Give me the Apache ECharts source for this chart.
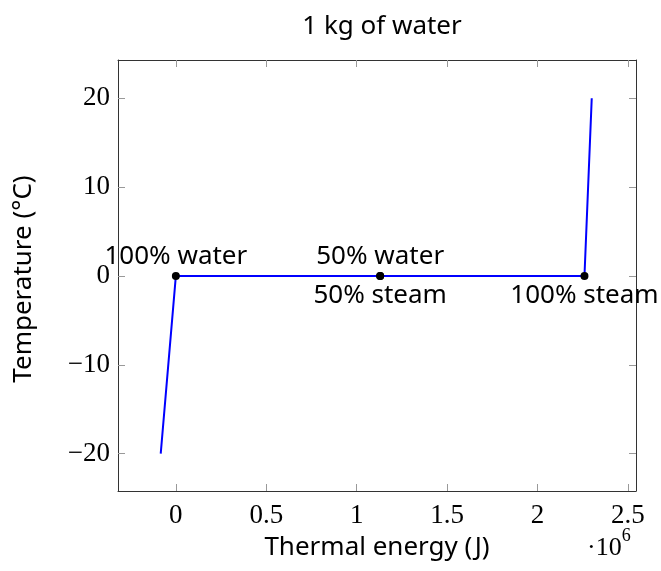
<!DOCTYPE html>
<html lang="en">
<head>
<meta charset="UTF-8">
<title>1 kg of water</title>
<script src="https://cdn.jsdelivr.net/npm/echarts@6/dist/echarts.min.js"></script>
<style>
    html,body{margin:0;padding:0;background:#fff;}
    #main{width:661px;height:571px;}
</style>
</head>
<body>
<div id="main"></div>
<script>
// heating curve data (energy in J, temperature in °C)
var energy = [-83720, 0, 1130000, 2260000, 2300200];
var temperature = [-20, 0, 0, 0, 20];

var aboveLabels = ['100% water', '50% water'];
var abovePoints = [[0, 0], [1130000, 0]];
var belowLabels = ['50% steam', '100% steam'];
var belowPoints = [[1130000, 0], [2260000, 0]];

var xTicks = [0, 500000, 1000000, 1500000, 2000000, 2500000];
var yTicks = [-20, -10, 0, 10, 20];

var serif = '"Liberation Serif", serif';
var sans = '"Noto Sans", "DejaVu Sans", sans-serif';
var frame = '#333';
var tickCol = '#999';

var chart = echarts.init(document.getElementById('main'));

function xAxisCfg(bottom) {
    return {
        type: 'value',
        position: bottom ? 'bottom' : 'top',
        min: -320000,
        max: 2545000,
        splitLine: {show: false},
        axisLine: {show: true, onZero: false, lineStyle: {color: frame, width: 1}},
        axisTick: {show: true, inside: true, length: 7, customValues: xTicks,
            lineStyle: {color: tickCol}},
        axisLabel: {show: bottom, customValues: xTicks, margin: 11,
            fontFamily: serif, fontSize: 27, color: '#000',
            formatter: function (v) { return String(v / 1e6); }}
    };
}
function yAxisCfg(left) {
    return {
        type: 'value',
        position: left ? 'left' : 'right',
        min: -24.2,
        max: 24.3,
        splitLine: {show: false},
        axisLine: {show: true, onZero: false, lineStyle: {color: frame, width: 1}},
        axisTick: {show: true, inside: true, length: 7, customValues: yTicks,
            lineStyle: {color: tickCol}},
        axisLabel: {show: left, customValues: yTicks, margin: 8,
            fontFamily: serif, fontSize: 27, color: '#000',
            formatter: function (v) { return v < 0 ? '\u2212' + (-v) : String(v); }}
    };
}

function pts(list) {
    return list.map(function (p) { return p.slice(); });
}

var nodeLabel = {show: true, fontFamily: sans, fontSize: 26, color: '#000',
    textBorderWidth: 0, opacity: 1};

var option = {
    animation: false,
    backgroundColor: '#fff',
    title: {
        text: '1 kg of water',
        left: 377, top: 9, textAlign: 'center',
        textStyle: {fontFamily: sans, fontSize: 26, fontWeight: 'normal', color: '#000'}
    },
    grid: {left: 118, right: 25, top: 60, bottom: 80},
    xAxis: [xAxisCfg(true), xAxisCfg(false)],
    yAxis: [yAxisCfg(true), yAxisCfg(false)],
    graphic: [
        {type: 'text', x: 377, y: 535,
            style: {text: 'Thermal energy (J)', font: '26px ' + sans, fill: '#000',
                align: 'center'}},
        {type: 'text', x: 587, y: 527,
            style: {text: '{a|·10}{b|6}', fill: '#000',
                rich: {a: {fontFamily: serif, fontSize: 26, padding: [8, 0, 0, 0]},
                       b: {fontFamily: serif, fontSize: 18, verticalAlign: 'top'}}}},
        {type: 'text', x: 11, y: 279, rotation: Math.PI / 2,
            style: {text: 'Temperature (°C)', font: '26px ' + sans, fill: '#000',
                align: 'center', verticalAlign: 'top'}}
    ],
    series: [
        {
            type: 'line',
            data: energy.map(function (e, i) { return [e, temperature[i]]; }),
            showSymbol: false,
            lineStyle: {color: '#0000ff', width: 2},
            z: 2
        },
        {
            type: 'scatter',
            data: pts(abovePoints),
            symbolSize: 8,
            itemStyle: {color: '#000', opacity: 1},
            label: Object.assign({position: 'top', distance: 2,
                formatter: function (p) { return aboveLabels[p.dataIndex]; }}, nodeLabel),
            z: 3
        },
        {
            type: 'scatter',
            data: pts(belowPoints),
            symbolSize: 8,
            itemStyle: {color: '#000', opacity: 1},
            label: Object.assign({position: 'bottom', distance: 3,
                formatter: function (p) { return belowLabels[p.dataIndex]; }}, nodeLabel),
            z: 3
        }
    ]
};
chart.setOption(option);
</script>
</body>
</html>
